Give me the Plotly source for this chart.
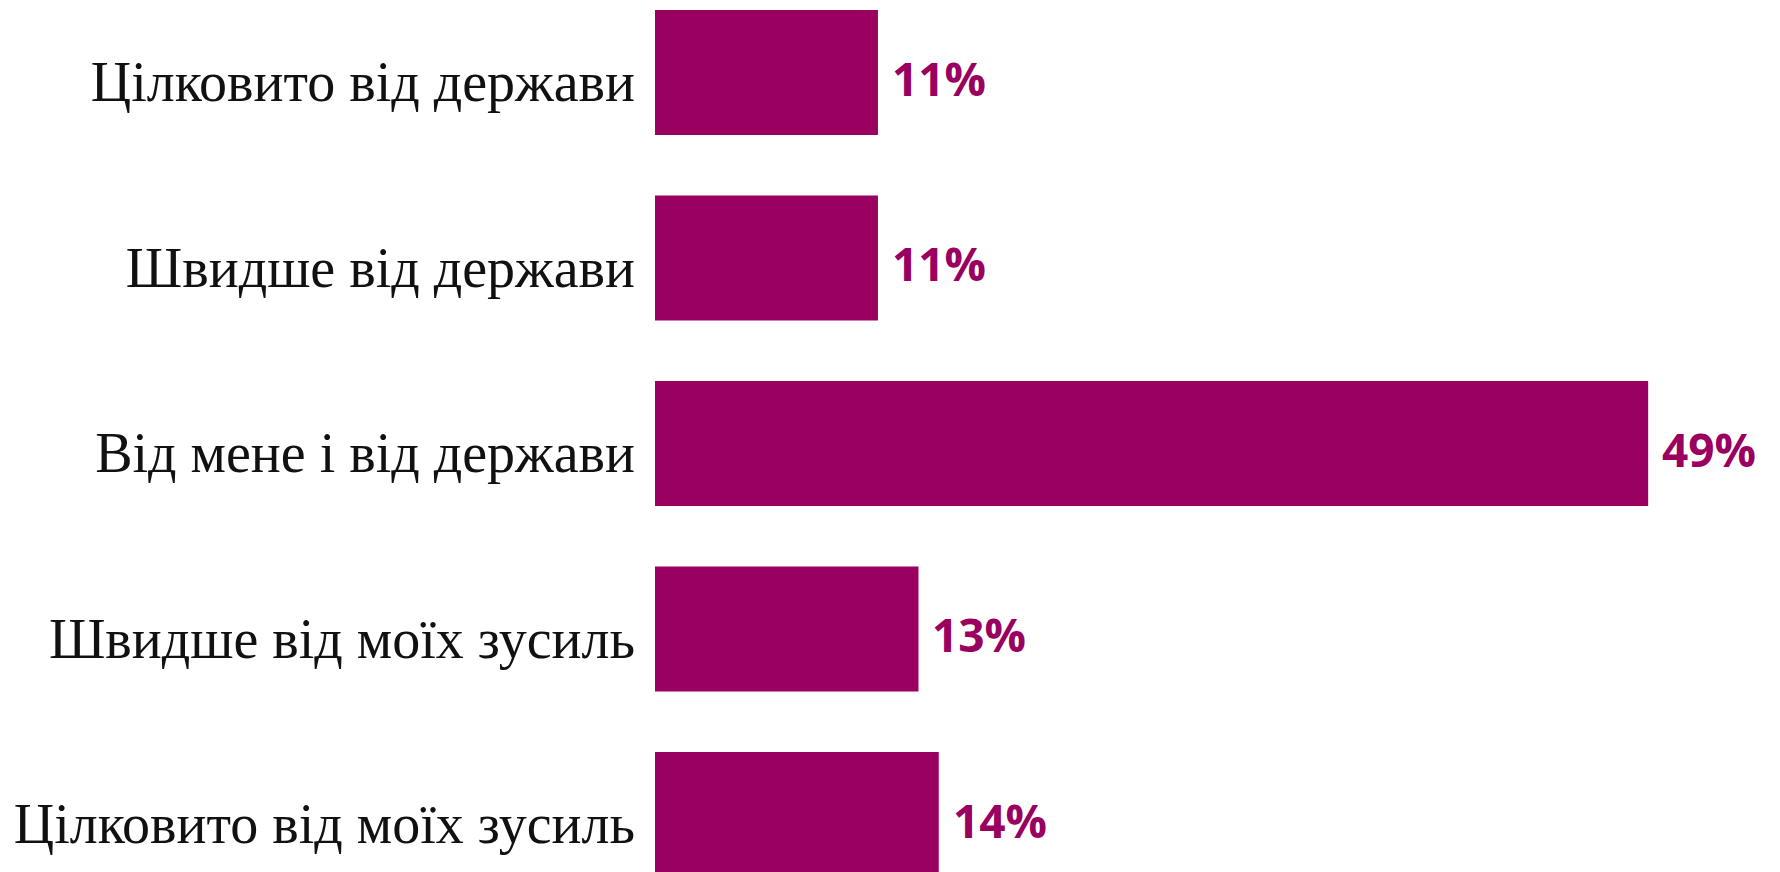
import plotly.graph_objects as go

categories = [
    "Цілковито від держави",
    "Швидше від держави",
    "Від мене і від держави",
    "Швидше від моїх зусиль",
    "Цілковито від моїх зусиль",
]
values = [11, 11, 49, 13, 14]
labels = ["11%", "11%", "49%", "13%", "14%"]

BAR = "#990060"

fig = go.Figure(go.Bar(
    x=values,
    y=categories,
    orientation="h",
    marker=dict(color=BAR, line=dict(width=0)),
    width=0.674,
    hoverinfo="skip",
))

for v, c, t in zip(values, categories, labels):
    fig.add_annotation(
        x=v, y=c, text=t, showarrow=False,
        xanchor="left", yanchor="middle", xshift=12, yshift=-5,
        font=dict(family="Open Sans", size=46, color=BAR, weight="bold"),
    )

fig.update_layout(
    width=1780, height=872,
    margin=dict(l=647, r=0, t=0, b=0),
    paper_bgcolor="white", plot_bgcolor="white",
    showlegend=False,
    xaxis=dict(range=[0, 55.9], visible=False, fixedrange=True),
    yaxis=dict(
        type="category",
        categoryorder="array", categoryarray=categories,
        range=[4.353, -0.348],
        showgrid=False, zeroline=False, showline=False,
        ticks="", ticklabelstandoff=19, ticklabelshift=-9,
        tickfont=dict(family="Liberation Serif", size=56, color="#111111"),
    ),
)

fig.write_html("out.html")
